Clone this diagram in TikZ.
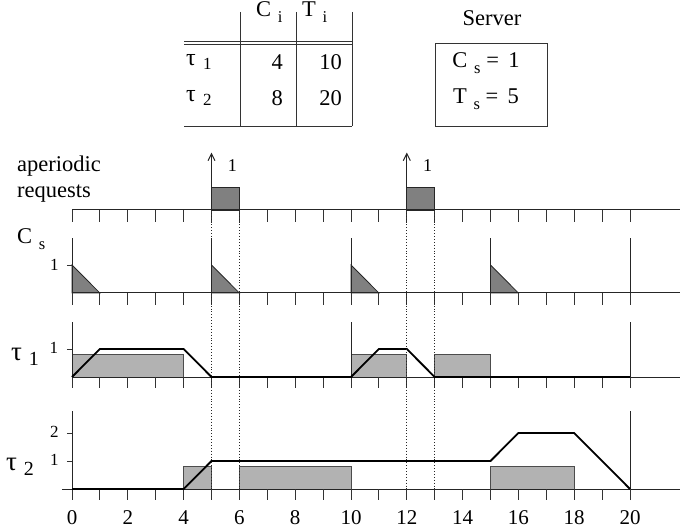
\documentclass[tikz,border=0pt]{standalone}
\usepackage{fontspec}
\setmainfont{Liberation Serif}
\usetikzlibrary{arrows.meta}
\newcommand\lsub[1]{\hspace{0.3em}\raisebox{-6pt}{\fontsize{16.5}{16.5}\selectfont #1}}
\newcommand\lsubt[1]{\hspace{0.3em}\raisebox{-4pt}{\fontsize{17}{17}\selectfont #1}}
\newcommand\lsubb[1]{\hspace{0.25em}\raisebox{-5pt}{\fontsize{20}{20}\selectfont #1}}
\begin{document}
\begin{tikzpicture}[x=1pt,y=-1pt,
  ax/.style={line width=1pt, black!85},
  tk/.style={line width=0.9pt, black!80},
  tbl/.style={line width=0.9pt, black!80},
  curve/.style={line width=1.8pt, black, line join=miter},
  dk/.style={fill=black!50, draw=black!85, line width=0.8pt},
  lt/.style={fill=black!30, draw=black!70, line width=0.8pt},
  dots/.style={dotted, line width=0.9pt, black!85},
  txt/.style={font=\fontsize{22.5}{22.5}\selectfont, inner sep=0pt},
  small/.style={font=\fontsize{17}{17}\selectfont, inner sep=0pt},
  big/.style={font=\fontsize{27}{27}\selectfont, inner sep=0pt}]
\useasboundingbox (0,0) rectangle (680,529);

% ---- table ----
\draw[tbl] (240,12) -- (240,126);
\draw[tbl] (296,12) -- (296,126);
\draw[tbl] (352,12) -- (352,126);
\draw[tbl] (184,41) -- (352,41);
\draw[tbl] (184,44) -- (352,44);
\draw[tbl] (184,126) -- (352,126);
\node[txt, anchor=base west] (hC) at (256,17) {C\lsub{i}};
\node[txt, anchor=base west] (hT) at (302,17) {T\lsub{i}};
\node[txt, font=\fontsize{24}{24}\selectfont, anchor=base west] (r1) at (186,66) {τ\lsubt{1}};
\node[txt, font=\fontsize{24}{24}\selectfont, anchor=base west] (r2) at (186,102) {τ\lsubt{2}};
\node[txt, anchor=base east] (c1) at (283,70) {4};
\node[txt, anchor=base east] (c2) at (283,106) {8};
\node[txt, anchor=base east] (p1) at (342,70) {10};
\node[txt, anchor=base east] (p2) at (342,106) {20};

% ---- server ----
\draw[tbl] (435,43) rectangle (547,126);
\node[txt, anchor=base] (srv) at (492,26) {Server};
\node[txt, anchor=base] (cs) at (486,68) {C\lsub{s} = \,1};
\node[txt, anchor=base] (ts) at (486,104) {T\lsub{s} = \,5};

% ---- row labels ----
\node[txt, anchor=base west] (lap) at (17,172) {aperiodic};
\node[txt, anchor=base west] (lrq) at (17,198) {requests};
\node[txt, anchor=base west] (lcs) at (17,244) {C\lsub{s}};
\node[big, anchor=base west] (lt1) at (11,360) {τ\lsubb{1}};
\node[big, anchor=base west] (lt2) at (6,470) {τ\lsubb{2}};

% ---- aperiodic requests row ----
\begin{scope}[shift={(72,210)}, x=27.9pt, y=28pt]
  \draw[dk] (5,0) rectangle (6,0.79);
  \draw[dk] (12,0) rectangle (13,0.79);
  \draw[ax] (0,0) -- (21.8,0);
  \foreach \t in {0,...,20} \draw[tk] (\t,0) -- (\t,-0.42);
  \draw[ax, -{Straight Barb[length=7pt,width=7pt]}] (5,0) -- (5,2.05);
  \draw[ax, -{Straight Barb[length=7pt,width=7pt]}] (12,0) -- (12,2.05);
  \node[small, font=\fontsize{18}{18}\selectfont] (a1) at (5.75,1.6) {1};
  \node[small, font=\fontsize{18}{18}\selectfont] (a2) at (12.75,1.6) {1};
\end{scope}

% ---- C_s row ----
\begin{scope}[shift={(72,293)}, x=27.9pt, y=28pt]
  \foreach \t in {0,5,10,15} {
    \draw[dk] (\t,1) -- (\t,0) -- (\t+1,0) -- cycle;
    \draw[ax] (\t,0) -- (\t,1.96);
  }
  \draw[ax] (20,-0.42) -- (20,1.96);
  \draw[ax] (0,0) -- (21.8,0);
  \foreach \t in {0,...,20} \draw[tk] (\t,0) -- (\t,-0.42);
  \draw[tk] (-0.18,1) -- (0,1);
  \node[small] (cs1) at (-0.63,1) {1};
\end{scope}

% ---- tau_1 row ----
\begin{scope}[shift={(72,377)}, x=27.9pt, y=28pt]
  \draw[lt] (0,0) rectangle (4,0.79);
  \draw[lt] (10,0) rectangle (12,0.79);
  \draw[lt] (13,0) rectangle (15,0.79);
  \draw[ax] (0,0) -- (0,1.96);
  \draw[ax] (10,-0.4) -- (10,1.96);
  \draw[ax] (20,-0.4) -- (20,1.96);
  \draw[ax] (0,0) -- (21.8,0);
  \foreach \t in {0,...,20} \draw[tk] (\t,0) -- (\t,-0.4);
  \draw[tk] (-0.18,1) -- (0,1);
  \node[small] (u1) at (-0.65,1.05) {1};
  \draw[curve] (0,0) -- (1,1) -- (4,1) -- (5,0) -- (10,0) -- (11,1) -- (12,1) -- (13,0) -- (20,0);
\end{scope}

% ---- tau_2 row ----
\begin{scope}[shift={(72,489)}, x=27.9pt, y=28pt]
  \draw[lt] (4,0) rectangle (5,0.82);
  \draw[lt] (6,0) rectangle (10,0.82);
  \draw[lt] (15,0) rectangle (18,0.82);
  \draw[ax] (0,0) -- (0,2.79);
  \draw[ax] (20,-0.4) -- (20,2.79);
  \draw[ax] (-0.36,0) -- (21.8,0);
  \foreach \t in {0,...,20} \draw[tk] (\t,0) -- (\t,-0.4);
  \draw[tk] (-0.18,1) -- (0,1);
  \draw[tk] (-0.18,2) -- (0,2);
  \node[small] (v1) at (-0.63,1.05) {1};
  \node[small] (v2) at (-0.63,2.05) {2};
  \draw[curve] (0,0) -- (4,0) -- (5,1) -- (15,1) -- (16,2) -- (18,2) -- (20,0);
  \foreach \t in {0,2,...,20} \node[txt, font=\fontsize{21}{21}\selectfont] (n\t) at (\t,-1.02) {\t};
\end{scope}

% ---- dotted guide lines ----
\begin{scope}[shift={(72,0)}, x=27.9pt]
  \foreach \t in {5,6,12,13} \draw[dots] (\t,210) -- (\t,489);
\end{scope}
\end{tikzpicture}
\end{document}
